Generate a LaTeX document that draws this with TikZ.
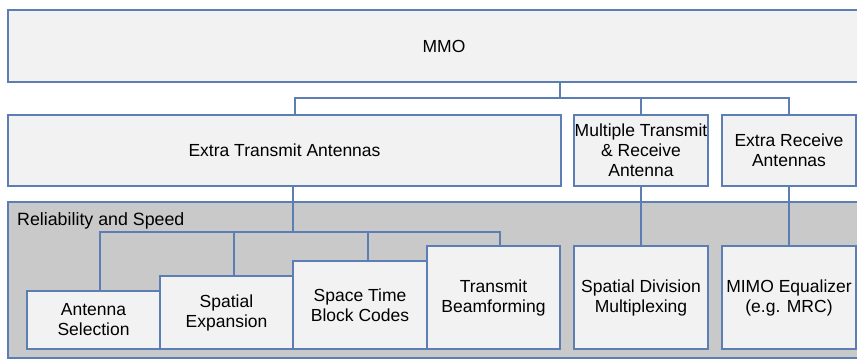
\documentclass[tikz,border=0pt]{standalone}
\usepackage{fontspec}
\setmainfont{Liberation Sans}
\definecolor{custom-blue}{RGB}{92, 126, 180}
\definecolor{custom-light}{RGB}{242, 242, 242}
\definecolor{custom-gray}{RGB}{201, 201, 201}

\begin{document}
\begin{tikzpicture}[x=1pt, y=-1pt,
    box/.style={draw=custom-blue, fill=custom-light, line width=1.1pt, inner sep=0pt, outer sep=0pt,
                align=center, font=\fontsize{17.5}{20}\selectfont},
    link/.style={draw=custom-blue, line width=1.1pt}]
\useasboundingbox (0,0) rectangle (857,360);
\clip (0,0) rectangle (857,360);
\fill[white] (0,0) rectangle (857,360);
% shaded area
\filldraw[fill=custom-gray, draw=custom-blue, line width=1.1pt] (8,202) rectangle (880,358);
\node[anchor=base west, inner sep=0pt, font=\fontsize{17.8}{20}\selectfont] (rel) at (17,225) {Reliability and Speed};

% top
\node[box, minimum width=872pt, minimum height=72pt] (mmo) at (444,46) {MMO};

% second row
\node[box, minimum width=553pt, minimum height=71pt] (eta) at (284.5,150.5) {Extra Transmit Antennas};
\node[box, minimum width=134pt, minimum height=71pt] (mtr) at (641,150.5) {Multiple Transmit\\ \& Receive\\ Antenna};
\node[box, minimum width=134pt, minimum height=71pt] (era) at (789,150.5) {Extra Receive\\ Antennas};

% bottom row
\node[box, minimum width=133pt, minimum height=58pt] (ansel) at (93.5,320) {Antenna\\ Selection};
\node[box, minimum width=133pt, minimum height=73pt] (spexp) at (226.5,312.5) {Spatial\\ Expansion};
\node[box, minimum width=134pt, minimum height=88pt] (stbc) at (360,305) {Space Time\\ Block Codes};
\node[box, minimum width=133pt, minimum height=103pt] (txbf) at (493.5,297.5) {Transmit\\ Beamforming};
\node[box, minimum width=134pt, minimum height=103pt] (sdm) at (641,297.5) {Spatial Division\\ Multiplexing};
\node[box, minimum width=134pt, minimum height=103pt] (mimo) at (789,297.5) {MIMO Equalizer\\ (e.g. MRC)};

% connectors
\coordinate (bus1) at (560,98);
\coordinate (d1) at (295,98);
\draw[link] (mmo.south -| bus1) -- (bus1);
\draw[link] (eta.north -| d1) -- (d1) -- (d1 -| era.north) -- (era.north);
\draw[link] (mtr.north) -- (mtr.north |- bus1);

\coordinate (bus2) at (293,232);
\coordinate (d2) at (100,232);
\coordinate (d3) at (234,232);
\coordinate (d4) at (368,232);
\coordinate (d5) at (500,232);
\draw[link] (eta.south -| bus2) -- (bus2);
\draw[link] (ansel.north -| d2) -- (d2) -- (d5) -- (txbf.north -| d5);
\draw[link] (d3) -- (spexp.north -| d3);
\draw[link] (d4) -- (stbc.north -| d4);

\draw[link] (mtr.south) -- (sdm.north);
\draw[link] (era.south) -- (mimo.north);
\end{tikzpicture}
\end{document}
